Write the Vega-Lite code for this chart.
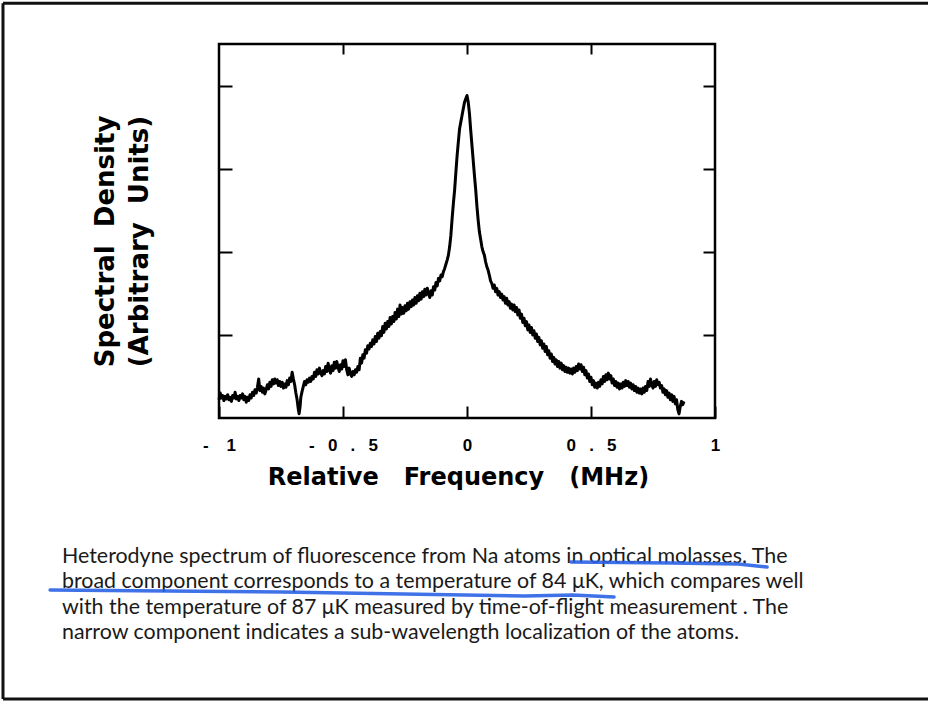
{
  "$schema": "https://vega.github.io/schema/vega-lite/v6.json",
  "width": 496,
  "height": 374,
  "autosize": {"type": "none"},
  "padding": {"left": 219, "top": 44, "right": 213, "bottom": 283},
  "background": "white",
  "config": {
    "view": {"stroke": "black", "strokeWidth": 2.5},
    "font": "Liberation Sans"
  },
  "datasets": {
    "spectrum": [
      {"freq": -1.000, "density": 0.22}, {"freq": -0.995, "density": 0.30}, {"freq": -0.990, "density": 0.24}, {"freq": -0.985, "density": 0.27},
      {"freq": -0.980, "density": 0.21}, {"freq": -0.975, "density": 0.26}, {"freq": -0.970, "density": 0.23}, {"freq": -0.965, "density": 0.28},
      {"freq": -0.960, "density": 0.22}, {"freq": -0.955, "density": 0.25}, {"freq": -0.950, "density": 0.20}, {"freq": -0.945, "density": 0.27},
      {"freq": -0.940, "density": 0.24}, {"freq": -0.935, "density": 0.31}, {"freq": -0.930, "density": 0.23}, {"freq": -0.925, "density": 0.26},
      {"freq": -0.920, "density": 0.21}, {"freq": -0.915, "density": 0.27}, {"freq": -0.910, "density": 0.24}, {"freq": -0.905, "density": 0.29},
      {"freq": -0.900, "density": 0.22}, {"freq": -0.895, "density": 0.26}, {"freq": -0.890, "density": 0.19}, {"freq": -0.885, "density": 0.25},
      {"freq": -0.880, "density": 0.21}, {"freq": -0.875, "density": 0.28}, {"freq": -0.870, "density": 0.24}, {"freq": -0.865, "density": 0.31},
      {"freq": -0.860, "density": 0.27}, {"freq": -0.855, "density": 0.34}, {"freq": -0.850, "density": 0.30}, {"freq": -0.845, "density": 0.37},
      {"freq": -0.840, "density": 0.47}, {"freq": -0.835, "density": 0.33}, {"freq": -0.830, "density": 0.38}, {"freq": -0.825, "density": 0.31},
      {"freq": -0.820, "density": 0.36}, {"freq": -0.815, "density": 0.29}, {"freq": -0.810, "density": 0.34}, {"freq": -0.805, "density": 0.40},
      {"freq": -0.800, "density": 0.35}, {"freq": -0.795, "density": 0.43}, {"freq": -0.790, "density": 0.38}, {"freq": -0.785, "density": 0.46},
      {"freq": -0.780, "density": 0.41}, {"freq": -0.775, "density": 0.47}, {"freq": -0.770, "density": 0.42}, {"freq": -0.765, "density": 0.46},
      {"freq": -0.760, "density": 0.39}, {"freq": -0.755, "density": 0.44}, {"freq": -0.750, "density": 0.38}, {"freq": -0.745, "density": 0.43},
      {"freq": -0.740, "density": 0.36}, {"freq": -0.735, "density": 0.41}, {"freq": -0.730, "density": 0.37}, {"freq": -0.725, "density": 0.45},
      {"freq": -0.720, "density": 0.40}, {"freq": -0.715, "density": 0.48}, {"freq": -0.710, "density": 0.44}, {"freq": -0.705, "density": 0.55},
      {"freq": -0.700, "density": 0.47}, {"freq": -0.695, "density": 0.40}, {"freq": -0.690, "density": 0.30}, {"freq": -0.685, "density": 0.22},
      {"freq": -0.680, "density": 0.10}, {"freq": -0.677, "density": 0.05}, {"freq": -0.673, "density": 0.14}, {"freq": -0.670, "density": 0.25},
      {"freq": -0.665, "density": 0.32}, {"freq": -0.660, "density": 0.38}, {"freq": -0.655, "density": 0.44}, {"freq": -0.650, "density": 0.40},
      {"freq": -0.645, "density": 0.46}, {"freq": -0.640, "density": 0.43}, {"freq": -0.635, "density": 0.48}, {"freq": -0.630, "density": 0.44},
      {"freq": -0.625, "density": 0.50}, {"freq": -0.620, "density": 0.47}, {"freq": -0.615, "density": 0.55}, {"freq": -0.610, "density": 0.50},
      {"freq": -0.605, "density": 0.58}, {"freq": -0.600, "density": 0.53}, {"freq": -0.595, "density": 0.60}, {"freq": -0.590, "density": 0.54},
      {"freq": -0.585, "density": 0.51}, {"freq": -0.580, "density": 0.57}, {"freq": -0.575, "density": 0.53}, {"freq": -0.570, "density": 0.62},
      {"freq": -0.565, "density": 0.56}, {"freq": -0.560, "density": 0.66}, {"freq": -0.555, "density": 0.58}, {"freq": -0.550, "density": 0.54},
      {"freq": -0.545, "density": 0.63}, {"freq": -0.540, "density": 0.57}, {"freq": -0.535, "density": 0.67}, {"freq": -0.530, "density": 0.60},
      {"freq": -0.525, "density": 0.68}, {"freq": -0.520, "density": 0.61}, {"freq": -0.515, "density": 0.56}, {"freq": -0.510, "density": 0.64},
      {"freq": -0.505, "density": 0.59}, {"freq": -0.500, "density": 0.69}, {"freq": -0.495, "density": 0.62}, {"freq": -0.490, "density": 0.70},
      {"freq": -0.485, "density": 0.58}, {"freq": -0.480, "density": 0.52}, {"freq": -0.475, "density": 0.60}, {"freq": -0.470, "density": 0.53},
      {"freq": -0.465, "density": 0.50}, {"freq": -0.460, "density": 0.56}, {"freq": -0.455, "density": 0.52}, {"freq": -0.450, "density": 0.58},
      {"freq": -0.445, "density": 0.55}, {"freq": -0.440, "density": 0.62}, {"freq": -0.435, "density": 0.58}, {"freq": -0.430, "density": 0.72},
      {"freq": -0.425, "density": 0.66}, {"freq": -0.420, "density": 0.76}, {"freq": -0.415, "density": 0.72}, {"freq": -0.410, "density": 0.82},
      {"freq": -0.405, "density": 0.78}, {"freq": -0.400, "density": 0.87}, {"freq": -0.395, "density": 0.83}, {"freq": -0.390, "density": 0.90},
      {"freq": -0.385, "density": 0.86}, {"freq": -0.380, "density": 0.94}, {"freq": -0.375, "density": 0.89}, {"freq": -0.370, "density": 0.98},
      {"freq": -0.365, "density": 0.92}, {"freq": -0.360, "density": 1.02}, {"freq": -0.355, "density": 0.96}, {"freq": -0.350, "density": 1.04},
      {"freq": -0.345, "density": 0.99}, {"freq": -0.340, "density": 1.10}, {"freq": -0.335, "density": 1.03}, {"freq": -0.330, "density": 1.14},
      {"freq": -0.325, "density": 1.07}, {"freq": -0.320, "density": 1.16}, {"freq": -0.315, "density": 1.10}, {"freq": -0.310, "density": 1.21},
      {"freq": -0.305, "density": 1.13}, {"freq": -0.300, "density": 1.22}, {"freq": -0.295, "density": 1.16}, {"freq": -0.290, "density": 1.27},
      {"freq": -0.285, "density": 1.19}, {"freq": -0.280, "density": 1.31}, {"freq": -0.275, "density": 1.22}, {"freq": -0.270, "density": 1.36},
      {"freq": -0.265, "density": 1.25}, {"freq": -0.260, "density": 1.33}, {"freq": -0.255, "density": 1.26}, {"freq": -0.250, "density": 1.35},
      {"freq": -0.245, "density": 1.29}, {"freq": -0.240, "density": 1.38}, {"freq": -0.235, "density": 1.31}, {"freq": -0.230, "density": 1.40},
      {"freq": -0.225, "density": 1.34}, {"freq": -0.220, "density": 1.42}, {"freq": -0.215, "density": 1.36}, {"freq": -0.210, "density": 1.45},
      {"freq": -0.205, "density": 1.38}, {"freq": -0.200, "density": 1.47}, {"freq": -0.195, "density": 1.41}, {"freq": -0.190, "density": 1.50},
      {"freq": -0.185, "density": 1.43}, {"freq": -0.180, "density": 1.52}, {"freq": -0.175, "density": 1.46}, {"freq": -0.170, "density": 1.55},
      {"freq": -0.165, "density": 1.48}, {"freq": -0.160, "density": 1.56}, {"freq": -0.155, "density": 1.50}, {"freq": -0.150, "density": 1.45},
      {"freq": -0.145, "density": 1.53}, {"freq": -0.140, "density": 1.48}, {"freq": -0.135, "density": 1.58}, {"freq": -0.130, "density": 1.54},
      {"freq": -0.125, "density": 1.63}, {"freq": -0.120, "density": 1.59}, {"freq": -0.115, "density": 1.68}, {"freq": -0.110, "density": 1.65},
      {"freq": -0.105, "density": 1.72}, {"freq": -0.100, "density": 1.70}, {"freq": -0.095, "density": 1.76}, {"freq": -0.090, "density": 1.80},
      {"freq": -0.085, "density": 1.85}, {"freq": -0.080, "density": 1.90}, {"freq": -0.075, "density": 1.96}, {"freq": -0.070, "density": 2.06},
      {"freq": -0.065, "density": 2.20}, {"freq": -0.060, "density": 2.40}, {"freq": -0.055, "density": 2.58}, {"freq": -0.050, "density": 2.74},
      {"freq": -0.045, "density": 2.95}, {"freq": -0.040, "density": 3.15}, {"freq": -0.035, "density": 3.32}, {"freq": -0.030, "density": 3.48},
      {"freq": -0.025, "density": 3.56}, {"freq": -0.020, "density": 3.64}, {"freq": -0.015, "density": 3.72}, {"freq": -0.010, "density": 3.80},
      {"freq": -0.005, "density": 3.84}, {"freq": 0.000, "density": 3.88}, {"freq": 0.005, "density": 3.80}, {"freq": 0.010, "density": 3.66},
      {"freq": 0.015, "density": 3.46}, {"freq": 0.020, "density": 3.28}, {"freq": 0.025, "density": 3.10}, {"freq": 0.030, "density": 2.92},
      {"freq": 0.035, "density": 2.75}, {"freq": 0.040, "density": 2.55}, {"freq": 0.045, "density": 2.38}, {"freq": 0.050, "density": 2.24},
      {"freq": 0.055, "density": 2.15}, {"freq": 0.060, "density": 2.06}, {"freq": 0.065, "density": 2.00}, {"freq": 0.070, "density": 1.96},
      {"freq": 0.075, "density": 1.88}, {"freq": 0.080, "density": 1.82}, {"freq": 0.085, "density": 1.78}, {"freq": 0.090, "density": 1.72},
      {"freq": 0.095, "density": 1.65}, {"freq": 0.100, "density": 1.62}, {"freq": 0.105, "density": 1.56}, {"freq": 0.110, "density": 1.60},
      {"freq": 0.115, "density": 1.52}, {"freq": 0.120, "density": 1.56}, {"freq": 0.125, "density": 1.48}, {"freq": 0.130, "density": 1.52},
      {"freq": 0.135, "density": 1.45}, {"freq": 0.140, "density": 1.49}, {"freq": 0.145, "density": 1.42}, {"freq": 0.150, "density": 1.46},
      {"freq": 0.155, "density": 1.38}, {"freq": 0.160, "density": 1.44}, {"freq": 0.165, "density": 1.36}, {"freq": 0.170, "density": 1.40},
      {"freq": 0.175, "density": 1.32}, {"freq": 0.180, "density": 1.37}, {"freq": 0.185, "density": 1.30}, {"freq": 0.190, "density": 1.36},
      {"freq": 0.195, "density": 1.28}, {"freq": 0.200, "density": 1.33}, {"freq": 0.205, "density": 1.24}, {"freq": 0.210, "density": 1.30},
      {"freq": 0.215, "density": 1.20}, {"freq": 0.220, "density": 1.25}, {"freq": 0.225, "density": 1.15}, {"freq": 0.230, "density": 1.20},
      {"freq": 0.235, "density": 1.11}, {"freq": 0.240, "density": 1.16}, {"freq": 0.245, "density": 1.06}, {"freq": 0.250, "density": 1.12},
      {"freq": 0.255, "density": 1.03}, {"freq": 0.260, "density": 1.09}, {"freq": 0.265, "density": 1.00}, {"freq": 0.270, "density": 1.05},
      {"freq": 0.275, "density": 0.96}, {"freq": 0.280, "density": 1.01}, {"freq": 0.285, "density": 0.92}, {"freq": 0.290, "density": 0.97},
      {"freq": 0.295, "density": 0.88}, {"freq": 0.300, "density": 0.93}, {"freq": 0.305, "density": 0.84}, {"freq": 0.310, "density": 0.89},
      {"freq": 0.315, "density": 0.80}, {"freq": 0.320, "density": 0.86}, {"freq": 0.325, "density": 0.76}, {"freq": 0.330, "density": 0.81},
      {"freq": 0.335, "density": 0.72}, {"freq": 0.340, "density": 0.77}, {"freq": 0.345, "density": 0.68}, {"freq": 0.350, "density": 0.73},
      {"freq": 0.355, "density": 0.65}, {"freq": 0.360, "density": 0.70}, {"freq": 0.365, "density": 0.62}, {"freq": 0.370, "density": 0.68},
      {"freq": 0.375, "density": 0.60}, {"freq": 0.380, "density": 0.66}, {"freq": 0.385, "density": 0.58}, {"freq": 0.390, "density": 0.63},
      {"freq": 0.395, "density": 0.56}, {"freq": 0.400, "density": 0.61}, {"freq": 0.405, "density": 0.55}, {"freq": 0.410, "density": 0.60},
      {"freq": 0.415, "density": 0.54}, {"freq": 0.420, "density": 0.59}, {"freq": 0.425, "density": 0.53}, {"freq": 0.430, "density": 0.60},
      {"freq": 0.435, "density": 0.55}, {"freq": 0.440, "density": 0.62}, {"freq": 0.445, "density": 0.57}, {"freq": 0.450, "density": 0.65},
      {"freq": 0.455, "density": 0.59}, {"freq": 0.460, "density": 0.64}, {"freq": 0.465, "density": 0.56}, {"freq": 0.470, "density": 0.61},
      {"freq": 0.475, "density": 0.52}, {"freq": 0.480, "density": 0.57}, {"freq": 0.485, "density": 0.48}, {"freq": 0.490, "density": 0.53},
      {"freq": 0.495, "density": 0.44}, {"freq": 0.500, "density": 0.49}, {"freq": 0.505, "density": 0.40}, {"freq": 0.510, "density": 0.45},
      {"freq": 0.515, "density": 0.37}, {"freq": 0.520, "density": 0.42}, {"freq": 0.525, "density": 0.36}, {"freq": 0.530, "density": 0.43},
      {"freq": 0.535, "density": 0.38}, {"freq": 0.540, "density": 0.46}, {"freq": 0.545, "density": 0.41}, {"freq": 0.550, "density": 0.50},
      {"freq": 0.555, "density": 0.44}, {"freq": 0.560, "density": 0.52}, {"freq": 0.565, "density": 0.46}, {"freq": 0.570, "density": 0.54},
      {"freq": 0.575, "density": 0.47}, {"freq": 0.580, "density": 0.51}, {"freq": 0.585, "density": 0.42}, {"freq": 0.590, "density": 0.47},
      {"freq": 0.595, "density": 0.39}, {"freq": 0.600, "density": 0.44}, {"freq": 0.605, "density": 0.37}, {"freq": 0.610, "density": 0.42},
      {"freq": 0.615, "density": 0.35}, {"freq": 0.620, "density": 0.41}, {"freq": 0.625, "density": 0.36}, {"freq": 0.630, "density": 0.43},
      {"freq": 0.635, "density": 0.38}, {"freq": 0.640, "density": 0.45}, {"freq": 0.645, "density": 0.39}, {"freq": 0.650, "density": 0.44},
      {"freq": 0.655, "density": 0.37}, {"freq": 0.660, "density": 0.42}, {"freq": 0.665, "density": 0.35}, {"freq": 0.670, "density": 0.40},
      {"freq": 0.675, "density": 0.33}, {"freq": 0.680, "density": 0.38}, {"freq": 0.685, "density": 0.31}, {"freq": 0.690, "density": 0.36},
      {"freq": 0.695, "density": 0.30}, {"freq": 0.700, "density": 0.35}, {"freq": 0.705, "density": 0.29}, {"freq": 0.710, "density": 0.36},
      {"freq": 0.715, "density": 0.31}, {"freq": 0.720, "density": 0.38}, {"freq": 0.725, "density": 0.33}, {"freq": 0.730, "density": 0.44},
      {"freq": 0.735, "density": 0.38}, {"freq": 0.740, "density": 0.47}, {"freq": 0.745, "density": 0.40}, {"freq": 0.750, "density": 0.36},
      {"freq": 0.755, "density": 0.44}, {"freq": 0.760, "density": 0.38}, {"freq": 0.765, "density": 0.46}, {"freq": 0.770, "density": 0.40},
      {"freq": 0.775, "density": 0.43}, {"freq": 0.780, "density": 0.36}, {"freq": 0.785, "density": 0.39}, {"freq": 0.790, "density": 0.31},
      {"freq": 0.795, "density": 0.35}, {"freq": 0.800, "density": 0.28}, {"freq": 0.805, "density": 0.33}, {"freq": 0.810, "density": 0.25},
      {"freq": 0.815, "density": 0.30}, {"freq": 0.820, "density": 0.22}, {"freq": 0.825, "density": 0.28}, {"freq": 0.830, "density": 0.20},
      {"freq": 0.835, "density": 0.26}, {"freq": 0.840, "density": 0.17}, {"freq": 0.845, "density": 0.22}, {"freq": 0.850, "density": 0.10},
      {"freq": 0.855, "density": 0.05}, {"freq": 0.860, "density": 0.14}, {"freq": 0.865, "density": 0.20}, {"freq": 0.870, "density": 0.16},
      {"freq": 0.875, "density": 0.20}
    ],
    "underlines": [
      {"mark": "u1", "order": 1, "freq": 0.419, "density": -1.733},
      {"mark": "u1", "order": 2, "freq": 0.819, "density": -1.745},
      {"mark": "u1", "order": 3, "freq": 1.093, "density": -1.757},
      {"mark": "u1", "order": 4, "freq": 1.210, "density": -1.793},
      {"mark": "u2", "order": 1, "freq": -1.681, "density": -2.070},
      {"mark": "u2", "order": 2, "freq": -0.746, "density": -2.094},
      {"mark": "u2", "order": 3, "freq": 0.234, "density": -2.142},
      {"mark": "u2", "order": 4, "freq": 0.427, "density": -2.130},
      {"mark": "u2", "order": 5, "freq": 0.593, "density": -2.154}
    ],
    "caption": [
      {"freq": -1.633, "density": -1.745, "line": "Heterodyne spectrum of fluorescence from Na atoms in optical molasses. The"},
      {"freq": -1.633, "density": -2.051, "line": "broad component corresponds to a temperature of 84 μK, which compares well"},
      {"freq": -1.633, "density": -2.358, "line": "with the temperature of 87 μK measured by time-of-flight measurement . The"},
      {"freq": -1.633, "density": -2.665, "line": "narrow component indicates a sub-wavelength localization of the atoms."}
    ],
    "border": [
      {"side": "left", "fromX": -1.871, "toX": -1.871, "fromY": -3.38, "toY": 4.99},
      {"side": "top", "fromX": -1.871, "toX": 3.0, "fromY": 4.99, "toY": 4.99},
      {"side": "bottom", "fromX": -1.871, "toX": 3.0, "fromY": -3.38, "toY": -3.38}
    ]
  },
  "layer": [
    {
      "data": {"name": "border"},
      "mark": {"type": "rule", "color": "#111111", "strokeWidth": 3},
      "encoding": {
        "x": {"field": "fromX", "type": "quantitative", "scale": {"domain": [-1, 1], "nice": false, "zero": false}, "axis": null},
        "x2": {"field": "toX"},
        "y": {"field": "fromY", "type": "quantitative", "scale": {"domain": [0, 4.5], "nice": false, "zero": false}, "axis": null},
        "y2": {"field": "toY"}
      }
    },
    {
      "data": {"name": "spectrum"},
      "mark": {"type": "line", "color": "black", "strokeWidth": 3, "strokeJoin": "round"},
      "encoding": {
        "x": {
          "field": "freq", "type": "quantitative",
          "scale": {"domain": [-1, 1], "nice": false, "zero": false},
          "axis": {
            "orient": "bottom", "values": [-1, -0.5, 0, 0.5, 1], "domain": false, "grid": false,
            "tickSize": -12, "tickWidth": 2, "tickColor": "black",
            "labelExpr": "datum.value == -1 ? '-\u2002\u00a0\u00a01' : datum.value == -0.5 ? '-\u2002\u00a00\u2002\u00a0.\u2002\u00a05' : datum.value == 0.5 ? '0\u2002\u00a0.\u2002\u00a05' : datum.value == 1 ? '1' : '0'",
            "labelFont": "Liberation Sans", "labelFontWeight": "bold", "labelFontSize": 17, "labelColor": "black",
            "labelPadding": 31, "labelFlush": false, "labelOverlap": false,
            "title": "Relative\u00a0\u00a0\u00a0Frequency\u00a0\u00a0\u00a0(MHz)",
            "titleFont": "DejaVu Sans", "titleFontWeight": "bold", "titleFontSize": 24, "titleColor": "black",
            "titlePadding": 12, "titleX": 239
          }
        },
        "y": {
          "field": "density", "type": "quantitative",
          "scale": {"domain": [0, 4.5], "nice": false, "zero": false},
          "axis": {
            "orient": "left", "values": [1, 2, 3, 4], "domain": false, "grid": false, "labels": false,
            "tickSize": -13, "tickWidth": 2, "tickColor": "black",
            "title": ["Spectral\u00a0\u00a0Density", "(Arbitrary\u00a0\u00a0Units)"],
            "titleFont": "DejaVu Sans", "titleFontWeight": "bold", "titleFontSize": 26, "titleColor": "black",
            "titleLineHeight": 34, "titlePadding": 66, "titleY": 197
          }
        }
      }
    },
    {
      "data": {"name": "spectrum"},
      "mark": {"type": "line", "strokeOpacity": 0},
      "encoding": {
        "x": {
          "field": "freq", "type": "quantitative",
          "scale": {"domain": [-1, 1], "nice": false, "zero": false},
          "axis": {"orient": "top", "values": [-0.5, 0, 0.5], "domain": false, "grid": false, "labels": false,
                   "tickSize": -10, "tickWidth": 2, "tickColor": "black", "title": null}
        },
        "y": {
          "field": "density", "type": "quantitative",
          "scale": {"domain": [0, 4.5], "nice": false, "zero": false},
          "axis": {"orient": "right", "values": [1, 2, 3, 4], "domain": false, "grid": false, "labels": false,
                   "tickSize": -12, "tickWidth": 2, "tickColor": "black", "title": null}
        }
      }
    },
    {
      "data": {"name": "caption"},
      "mark": {"type": "text", "align": "left", "baseline": "alphabetic", "font": "Lato", "fontSize": 21.4, "color": "#1a1a1a"},
      "encoding": {
        "x": {"field": "freq", "type": "quantitative", "scale": {"domain": [-1, 1], "nice": false, "zero": false}, "axis": null},
        "y": {"field": "density", "type": "quantitative", "scale": {"domain": [0, 4.5], "nice": false, "zero": false}, "axis": null},
        "text": {"field": "line", "type": "nominal"}
      }
    },
    {
      "data": {"name": "underlines"},
      "mark": {"type": "line", "color": "#2a62e4", "strokeWidth": 3.5, "strokeCap": "round", "opacity": 0.9},
      "encoding": {
        "x": {"field": "freq", "type": "quantitative", "scale": {"domain": [-1, 1], "nice": false, "zero": false}, "axis": null},
        "y": {"field": "density", "type": "quantitative", "scale": {"domain": [0, 4.5], "nice": false, "zero": false}, "axis": null},
        "detail": {"field": "mark", "type": "nominal"},
        "order": {"field": "order", "type": "quantitative"}
      }
    }
  ],
  "resolve": {"axis": {"x": "independent", "y": "independent"}}
}
